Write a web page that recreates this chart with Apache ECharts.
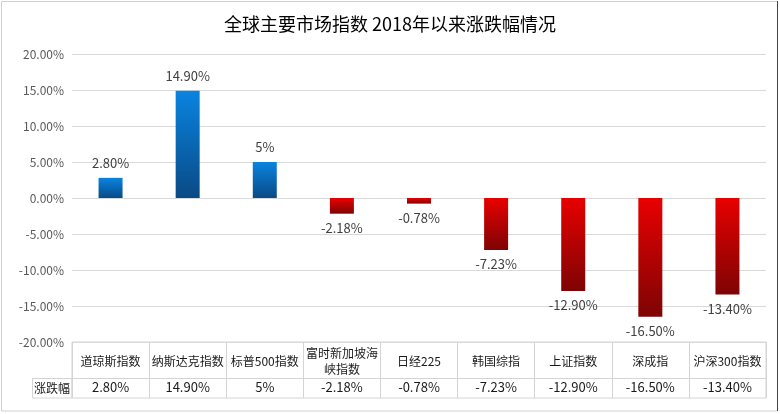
<!DOCTYPE html>
<html>
<head>
<meta charset="utf-8">
<script src="https://cdn.jsdelivr.net/npm/echarts@6/dist/echarts.min.js"></script>
<style>
html,body{margin:0;padding:0;background:#fff;}
#c{width:780px;height:414px;}
</style>
</head>
<body>
<div id="c"></div>
<script>
var categories = ['道琼斯指数','纳斯达克指数','标普500指数','富时新加坡海峡指数','日经225','韩国综指','上证指数','深成指','沪深300指数'];
var values = [2.8, 14.9, 5, -2.18, -0.78, -7.23, -12.9, -16.5, -13.4];
var valueLabels = ['2.80%','14.90%','5%','-2.18%','-0.78%','-7.23%','-12.90%','-16.50%','-13.40%'];
var rowName = '涨跌幅';
var titleText = '全球主要市场指数 2018年以来涨跌幅情况';

var FONT = '"Noto Sans CJK SC", "Noto Sans", sans-serif';
var chart = echarts.init(document.getElementById('c'));

var blueGrad = new echarts.graphic.LinearGradient(0,0,0,1,[{offset:0,color:'#0a84e0'},{offset:1,color:'#094a85'}]);
var redGrad = new echarts.graphic.LinearGradient(0,0,0,1,[{offset:0,color:'#e80000'},{offset:1,color:'#7e0404'}]);

var barData = values.map(function(v){
  return {
    value: v,
    itemStyle: {color: v >= 0 ? blueGrad : redGrad},
    label: {position: v >= 0 ? 'top' : 'bottom'}
  };
});

var option = {
  backgroundColor: '#fff',
  animation: false,
  title: {
    text: titleText,
    left: 'center',
    top: 10,
    textStyle: {fontFamily: FONT, fontSize: 18, fontWeight: 'normal', color: '#000'}
  },
  grid: [
    {left: 72, right: 14, top: 54, bottom: 72},
    {left: 72, right: 14, top: 342, height: 56, show: true, borderColor: '#d4d4d4', borderWidth: 1, backgroundColor: 'transparent'}
  ],
  xAxis: [
    {type: 'category', gridIndex: 0, data: categories,
     axisLine: {show: false}, axisTick: {show: false}, axisLabel: {show: false}, splitLine: {show: false}},
    {type: 'category', gridIndex: 1, data: categories, position: 'top',
     axisLine: {show: false}, axisTick: {show: false},
     splitLine: {show: true, interval: 0, lineStyle: {color: '#d4d4d4'}},
     axisLabel: {inside: true, interval: 0, margin: 19, verticalAlign: 'middle', lineHeight: 16,
       fontFamily: FONT, fontSize: 12, color: '#1a1a1a',
       formatter: function(s){ return s.length > 7 ? s.slice(0,6) + '\n' + s.slice(6) : s; }}},
    {type: 'category', gridIndex: 1, data: valueLabels, position: 'bottom',
     axisLine: {show: false}, axisTick: {show: false}, splitLine: {show: false},
     axisLabel: {inside: true, interval: 0, margin: 11, verticalAlign: 'middle',
       fontFamily: FONT, fontSize: 13, color: '#1a1a1a'}}
  ],
  yAxis: [
    {type: 'value', gridIndex: 0, min: -20, max: 20, interval: 5,
     axisLine: {show: false}, axisTick: {show: false},
     splitLine: {lineStyle: {color: '#d9d9d9'}},
     axisLabel: {margin: 8, fontFamily: FONT, fontSize: 12, color: '#595959',
       formatter: function(v){ return v.toFixed(2) + '%'; }}},
    {type: 'value', gridIndex: 1, min: 0, max: 1,
     axisLine: {show: false}, axisTick: {show: false}, axisLabel: {show: false}, splitLine: {show: false}}
  ],
  series: [{
    type: 'bar',
    xAxisIndex: 0, yAxisIndex: 0,
    data: barData,
    barWidth: 24,
    label: {show: true, distance: 8, fontFamily: FONT, fontSize: 13, color: '#404040',
      formatter: function(p){ return valueLabels[p.dataIndex]; }}
  }],
  graphic: [
    {type: 'rect', silent: true, z: -1, shape: {x: 1.5, y: 1.5, width: 776, height: 409.5},
     style: {fill: 'none', stroke: '#d0d0d0', lineWidth: 1}},
    {type: 'line', silent: true, shape: {x1: 777.5, y1: 1, x2: 777.5, y2: 411}, style: {stroke: '#444', lineWidth: 1}},
    {type: 'line', silent: true, shape: {x1: 32, y1: 378.5, x2: 766, y2: 378.5}, style: {stroke: '#d4d4d4', lineWidth: 1}},
    {type: 'rect', silent: true, shape: {x: 32.5, y: 378.5, width: 39.5, height: 19.5}, style: {fill: 'none', stroke: '#d4d4d4', lineWidth: 1}},
    {type: 'text', silent: true, x: 52, y: 388.5,
     style: {text: rowName, align: 'center', verticalAlign: 'middle', font: '12px ' + FONT, fill: '#1a1a1a'}}
  ]
};
chart.setOption(option);
</script>
</body>
</html>
